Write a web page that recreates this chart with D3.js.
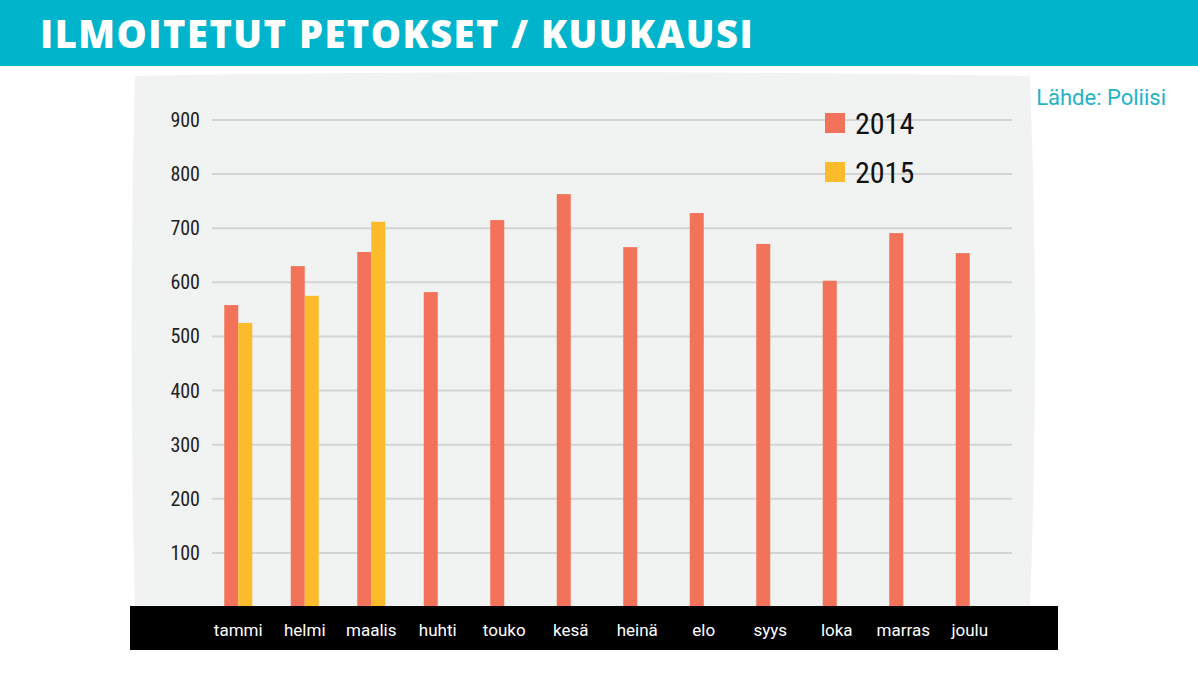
<!DOCTYPE html>
<html><head><meta charset="utf-8">
<script src="https://cdn.jsdelivr.net/npm/d3@7"></script>
<style>body{margin:0;background:#fff}svg{display:block}</style>
</head><body>
<div id="chart"></div>
<script>
var months = ["tammi","helmi","maalis","huhti","touko","kesä","heinä","elo","syys","loka","marras","joulu"];
var values2014 = [558,630,656,582,715,763,665,728,671,603,691,654];
var values2015 = [525,575,712];
var yTicks = [100,200,300,400,500,600,700,800,900];

var svg = d3.select("#chart").append("svg").attr("width",1198).attr("height",674);

// title band
svg.append("rect").attr("width",1198).attr("height",66).attr("fill","#00b5cb");
svg.append("text").attr("x",40).attr("y",48).attr("fill","#fff")
  .attr("font-family","Open Sans, sans-serif").attr("font-weight",800).attr("font-size",38)
  .attr("letter-spacing",1.5).text("ILMOITETUT PETOKSET / KUUKAUSI");

// panel
svg.append("path").attr("d","M135,76 Q580,68 1030,76 Q1040,340 1030,607 L135,607 Q128,340 135,76 Z").attr("fill","#f1f2f2");
svg.append("text").attr("x",1166).attr("y",105).attr("text-anchor","end").attr("fill","#1fb3c8")
  .attr("font-family","Roboto, sans-serif").attr("font-size",22).text("Lähde: Poliisi");

var x = d3.scaleBand().domain(months).range([205,1003]);
var y = d3.scaleLinear().domain([0,900]).range([607,120]);
var bw = 14;

svg.append("g").selectAll("line").data(yTicks).enter().append("line")
  .attr("x1",212).attr("x2",1012).attr("y1",d=>y(d)).attr("y2",d=>y(d))
  .attr("stroke","#d4d4d4").attr("stroke-width",2);
svg.append("g").selectAll("text").data(yTicks).enter().append("text")
  .attr("x",200).attr("y",d=>y(d)+7).attr("text-anchor","end")
  .attr("font-family","Roboto Condensed, Roboto, sans-serif").attr("font-size",20).attr("fill","#222").text(d=>d);

var cx = m => x(m)+x.bandwidth()/2;
svg.append("g").selectAll("rect").data(values2014).enter().append("rect")
  .attr("x",(d,i)=>cx(months[i])-bw).attr("width",bw)
  .attr("y",d=>y(d)).attr("height",d=>y(0)-y(d)).attr("fill","#f2735a");
svg.append("g").selectAll("rect").data(values2015).enter().append("rect")
  .attr("x",(d,i)=>cx(months[i])).attr("width",bw)
  .attr("y",d=>y(d)).attr("height",d=>y(0)-y(d)).attr("fill","#fbbb2b");

// month band
svg.append("rect").attr("x",130).attr("y",606).attr("width",928).attr("height",44).attr("fill","#000");
svg.append("g").selectAll("text").data(months).enter().append("text")
  .attr("x",m=>cx(m)).attr("y",636).attr("text-anchor","middle").attr("fill","#fff")
  .attr("font-family","Roboto, sans-serif").attr("font-size",17).text(m=>m);

// legend
var legend = [["2014","#f2735a"],["2015","#fbbb2b"]];
var lg = svg.append("g").selectAll("g").data(legend).enter().append("g")
  .attr("transform",(d,i)=>`translate(825,${113+i*49})`);
lg.append("rect").attr("width",20).attr("height",20).attr("fill",d=>d[1]);
lg.append("text").attr("x",30).attr("y",21).attr("font-family","Roboto Condensed, Roboto, sans-serif")
  .attr("font-size",30).attr("fill","#111").text(d=>d[0]);
</script>
</body></html>
